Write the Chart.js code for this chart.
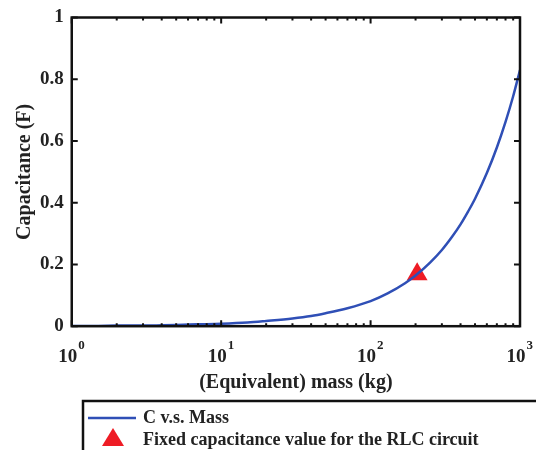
<!DOCTYPE html>
<html>
<head>
<meta charset="utf-8">
<script src="https://cdn.jsdelivr.net/npm/chart.js@4.4.1/dist/chart.umd.min.js"></script>
<style>
  html, body { margin: 0; padding: 0; background: #fff; }
  #wrap { width: 536px; height: 450px; }
</style>
</head>
<body>
<div id="wrap"><canvas id="capChart" width="536" height="450"></canvas></div>
<script>
// curve: mass (kg) vs capacitance (F)
const massValues = [1, 1.5, 2, 3, 4, 5, 7, 10, 15, 20, 30, 40, 50, 70, 100, 130, 170, 200, 250, 300, 350, 400, 450, 500, 600, 700, 800, 900, 1000];
const capValues = [0.001, 0.001, 0.002, 0.002, 0.003, 0.004, 0.006, 0.008, 0.012, 0.017, 0.025, 0.033, 0.042, 0.058, 0.081, 0.106, 0.139, 0.164, 0.206, 0.247, 0.289, 0.33, 0.372, 0.413, 0.496, 0.579, 0.662, 0.745, 0.83];

// the fixed capacitance marker
const fixedMass = [205];
const fixedCap = [0.168];

const yTicks = [0, 0.2, 0.4, 0.6, 0.8, 1];
const xPowers = [0, 1, 2, 3];

const legendLabels = ["C v.s. Mass", "Fixed capacitance value for the RLC circuit"];

const lineBlue = "#2f4fb6";
const markerRed = "#ee1c25";
const serif = "'Liberation Serif', 'Times New Roman', serif";

// box, inward ticks, superscripts and legend
const matlabLook = {
  id: "matlabLook",
  afterDraw(chart) {
    const ctx = chart.ctx;
    const a = chart.chartArea;
    const xs = chart.scales.x;
    const ys = chart.scales.y;
    ctx.save();

    // inward tick marks
    ctx.strokeStyle = "#111";
    ctx.lineWidth = 2;
    ctx.beginPath();
    yTicks.forEach(v => {
      const y = ys.getPixelForValue(v);
      ctx.moveTo(a.left, y); ctx.lineTo(a.left + 6, y);
      ctx.moveTo(a.right, y); ctx.lineTo(a.right - 6, y);
    });
    for (let p = 0; p < 3; p++) {
      for (let k = 1; k <= 9; k++) {
        const x = xs.getPixelForValue(k * Math.pow(10, p));
        const len = k === 1 ? 6 : 3;
        ctx.moveTo(x, a.bottom); ctx.lineTo(x, a.bottom - len);
        ctx.moveTo(x, a.top); ctx.lineTo(x, a.top + len);
      }
    }
    ctx.stroke();

    // axes box
    ctx.lineWidth = 2.5;
    ctx.strokeRect(a.left, a.top, a.right - a.left, a.bottom - a.top);

    // superscripts for the 10^n labels
    ctx.fillStyle = "#222";
    ctx.font = "bold 19px " + serif;
    const w10 = ctx.measureText("10").width;
    ctx.font = "bold 13px " + serif;
    ctx.textBaseline = "top";
    ctx.textAlign = "left";
    xPowers.forEach(p => {
      const x = xs.getPixelForValue(Math.pow(10, p)) - 4 + w10 / 2 + 1;
      ctx.fillText(String(p), x, xs.top + 13);
    });

    // legend box
    ctx.strokeStyle = "#111";
    ctx.lineWidth = 2.5;
    ctx.strokeRect(83, 401, 500, 80);
    ctx.strokeStyle = lineBlue;
    ctx.lineWidth = 2.5;
    ctx.beginPath();
    ctx.moveTo(88, 418); ctx.lineTo(136, 418);
    ctx.stroke();
    ctx.fillStyle = markerRed;
    ctx.beginPath();
    ctx.moveTo(113, 428); ctx.lineTo(124, 446); ctx.lineTo(102, 446);
    ctx.closePath();
    ctx.fill();
    ctx.fillStyle = "#222";
    ctx.font = "bold 18px " + serif;
    ctx.textBaseline = "middle";
    ctx.fillText(legendLabels[0], 143, 418);
    ctx.fillText(legendLabels[1], 143, 440);
    ctx.restore();
  }
};

const ctxCap = document.getElementById("capChart").getContext("2d");
new Chart(ctxCap, {
  type: "line",
  data: {
    datasets: [
      {
        label: legendLabels[0],
        data: massValues.map((m, i) => ({ x: m, y: capValues[i] })),
        borderColor: lineBlue,
        borderWidth: 2.5,
        pointRadius: 0,
        cubicInterpolationMode: "monotone",
        fill: false,
      },
      {
        label: legendLabels[1],
        data: fixedMass.map((m, i) => ({ x: m, y: fixedCap[i] })),
        showLine: false,
        pointStyle: "triangle",
        pointRadius: 12,
        pointBackgroundColor: markerRed,
        pointBorderColor: markerRed,
        pointBorderWidth: 0,
      },
    ],
  },
  options: {
    responsive: false,
    animation: false,
    layout: { padding: { left: 13, right: 16, top: 12, bottom: 55 } },
    plugins: { legend: { display: false }, tooltip: { enabled: false } },
    scales: {
      x: {
        type: "logarithmic",
        min: 1,
        max: 1000,
        grid: { display: false, drawTicks: true, tickLength: 16 },
        border: { display: false },
        ticks: {
          autoSkip: false,
          maxRotation: 0,
          padding: 3,
          labelOffset: -4,
          color: "#222",
          font: { family: serif, size: 19, weight: "bold" },
          callback: function (v) {
            const p = Math.log10(v);
            return Math.abs(p - Math.round(p)) < 1e-9 ? "10" : null;
          },
        },
        title: {
          display: true,
          text: "(Equivalent) mass (kg)",
          color: "#222",
          font: { family: serif, size: 20, weight: "bold" },
          padding: { top: 0, bottom: 0 },
        },
      },
      y: {
        min: 0,
        max: 1,
        grid: { display: false, drawTicks: false },
        border: { display: false },
        ticks: {
          stepSize: 0.2,
          padding: 8,
          color: "#222",
          font: { family: serif, size: 19, weight: "bold", lineHeight: 1 },
          callback: v => (v === 0 ? "0" : v === 1 ? "1" : v.toFixed(1)),
        },
        title: {
          display: true,
          text: "Capacitance (F)",
          color: "#222",
          font: { family: serif, size: 20, weight: "bold" },
          padding: { top: 0, bottom: -5 },
        },
      },
    },
  },
  plugins: [matlabLook],
});
</script>
</body>
</html>
